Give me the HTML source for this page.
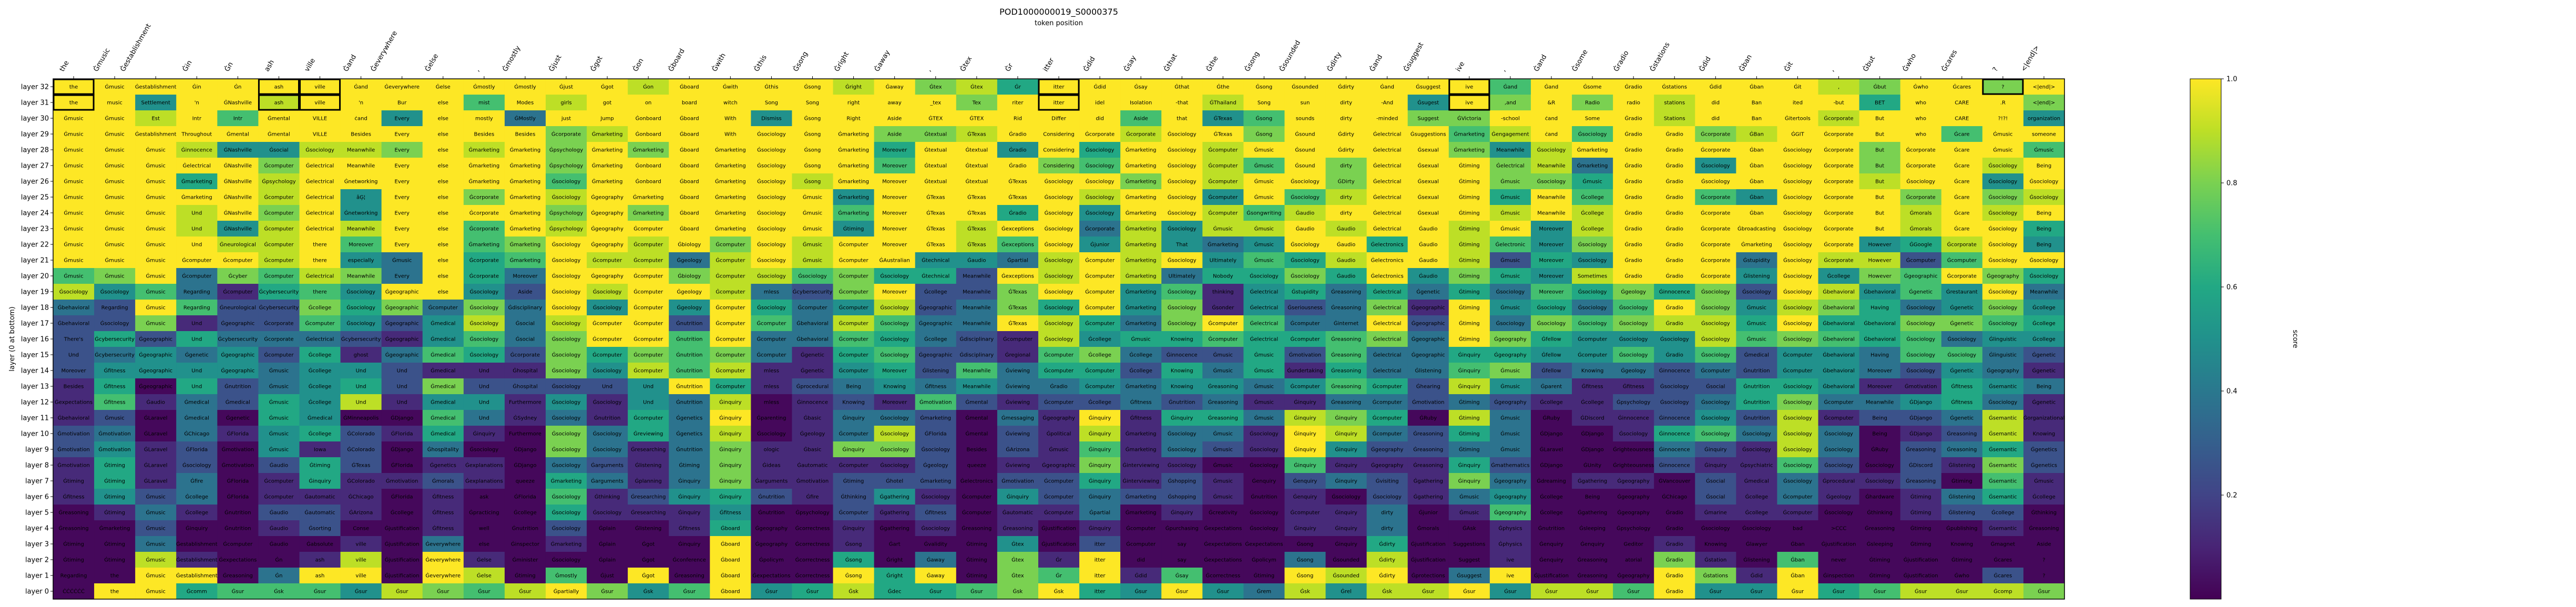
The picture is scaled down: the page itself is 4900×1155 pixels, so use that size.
<!DOCTYPE html>
<html><head><meta charset="utf-8"><style>
html,body{margin:0;padding:0;background:#fff;}
svg{display:block;font-family:"DejaVu Sans","Liberation Sans",sans-serif;}
</style></head><body>
<svg id="chart" width="4900" height="1155" viewBox="0 0 4900 1155" xmlns="http://www.w3.org/2000/svg">
<defs><linearGradient id="vir" x1="0" y1="1" x2="0" y2="0">
<stop offset="0" stop-color="#440154"/><stop offset="0.1" stop-color="#482475"/><stop offset="0.2" stop-color="#414487"/><stop offset="0.3" stop-color="#355f8d"/><stop offset="0.4" stop-color="#2a788e"/><stop offset="0.5" stop-color="#21918c"/><stop offset="0.6" stop-color="#22a884"/><stop offset="0.7" stop-color="#44bf70"/><stop offset="0.8" stop-color="#7ad151"/><stop offset="0.9" stop-color="#bddf26"/><stop offset="1" stop-color="#fde725"/>
</linearGradient></defs>
<text x="2014" y="28" text-anchor="middle" font-size="16">POD1000000019_S0000375</text>
<text x="2014" y="48" text-anchor="middle" font-size="13">token position</text>
<text transform="translate(27,645) rotate(-90)" text-anchor="middle" font-size="13">layer (0 at bottom)</text>
<g id="cells"></g>
<g id="xlabels"></g>
<g id="ylabels"></g>
<g id="boxes"></g>
<rect x="101" y="150" width="3826" height="990" fill="none" stroke="#000" stroke-width="1.5"/>
<g>
<rect x="4166" y="150" width="59" height="990" fill="url(#vir)" stroke="#000" stroke-width="1"/>
<g id="cbticks"></g>
<text transform="translate(4362,645) rotate(90)" text-anchor="middle" font-size="13">score</text>
</g>
</svg>
<script>
const xTokens=["the","Ġmusic","Ġestablishment","Ġin","Ġn","ash","ville","Ġand","Ġeverywhere","Ġelse",",","Ġmostly","Ġjust","Ġgot","Ġon","Ġboard","Ġwith","Ġthis","Ġsong","Ġright","Ġaway",",","Ġtex","Ġr","itter","Ġdid","Ġsay","Ġthat","Ġthe","Ġsong","Ġsounded","Ġdirty","Ġand","Ġsuggest","ive",",","Ġand","Ġsome","Ġradio","Ġstations","Ġdid","Ġban","Ġit",",","Ġbut","Ġwho","Ġcares","?","<|end|>"];
const layerNames=[32,31,30,29,28,27,26,25,24,23,22,21,20,19,18,17,16,15,14,13,12,11,10,9,8,7,6,5,4,3,2,1,0];
const levelToScore=[0.02,0.12,0.25,0.38,0.5,0.6,0.7,0.8,0.9,1.0];
const cbTickValues=[0.2,0.4,0.6,0.8,1.0];
const cbTickLabels=["0.2","0.4","0.6","0.8","1.0"];
const highlightCells=[[32,0],[31,0],[32,5],[31,5],[32,6],[31,6],[32,24],[31,24],[32,34],[31,34],[32,47]];
const levels=[
[9,9,9,9,9,9,9,9,9,9,9,9,9,9,8,9,9,9,9,8,9,7,8,5,9,9,9,9,9,9,9,9,9,9,9,6,9,9,9,9,9,9,9,8,7,9,9,7,9],
[9,9,4,9,9,8,9,9,9,9,6,9,8,9,9,9,9,9,9,9,9,9,7,9,9,9,9,9,8,9,9,9,9,4,9,7,9,7,9,8,9,9,9,9,5,9,9,9,7],
[9,9,8,9,6,9,9,9,4,9,9,3,9,9,9,9,9,4,9,9,9,9,9,9,9,9,6,9,4,6,9,9,9,7,7,9,9,9,9,8,9,9,9,8,9,9,9,9,4],
[9,9,9,9,9,9,9,9,9,9,9,9,7,8,9,9,9,9,9,9,7,7,8,9,9,9,8,9,9,7,9,9,9,9,6,8,9,6,9,9,7,8,9,9,9,9,6,9,9],
[9,9,9,8,4,4,8,8,7,9,8,9,7,9,7,9,9,9,9,9,5,9,9,4,9,5,9,9,8,9,9,9,9,9,7,4,8,9,9,9,9,9,9,9,7,9,9,9,6],
[9,9,9,9,9,7,9,9,9,9,9,9,7,9,9,9,9,9,9,9,6,9,9,9,7,6,9,9,8,6,9,7,9,9,9,7,8,3,9,9,4,9,9,9,7,9,9,8,9],
[9,9,9,5,9,8,9,9,9,9,9,9,6,9,9,9,9,9,8,9,9,9,9,9,9,9,7,9,8,9,9,7,9,9,9,7,7,5,9,9,9,9,9,9,8,9,9,4,9],
[9,9,9,9,9,8,9,4,9,9,7,9,8,9,9,9,9,9,9,4,9,9,9,9,9,8,9,9,4,9,6,8,9,9,9,5,9,6,9,9,6,4,9,9,9,7,9,7,8],
[9,9,9,8,9,7,9,4,9,9,9,9,7,9,7,9,9,9,9,6,9,9,9,5,9,4,9,9,8,6,8,9,9,9,9,8,9,8,9,9,9,9,9,9,9,8,9,8,9],
[9,9,9,8,4,8,9,8,9,9,6,9,8,9,9,9,9,9,9,4,9,9,8,9,9,3,8,4,8,8,9,8,9,9,8,9,4,8,9,9,9,9,9,9,9,8,9,9,5],
[9,9,9,9,8,8,9,6,9,9,6,7,9,9,8,9,7,9,8,9,9,9,8,6,9,4,8,4,3,4,9,9,5,9,8,6,4,7,9,9,9,9,9,9,4,5,8,9,4],
[9,9,9,9,9,8,9,4,3,9,5,6,9,8,8,3,8,9,8,9,9,4,4,3,8,9,8,9,4,6,5,8,9,9,8,2,5,4,9,9,9,3,9,8,8,2,6,9,9],
[6,7,9,3,7,6,8,7,3,9,5,3,9,9,9,7,8,8,6,7,5,5,2,9,8,9,8,3,5,5,7,5,9,4,7,5,4,8,9,9,9,4,9,4,7,6,9,7,5],
[8,4,6,3,1,5,6,4,9,9,4,2,9,8,9,9,8,3,2,7,9,2,2,7,9,9,4,6,1,4,5,3,5,3,5,3,6,5,7,5,7,2,9,8,4,6,4,9,3],
[3,2,9,6,2,2,7,5,7,3,7,3,9,4,9,4,9,5,3,4,8,2,3,7,5,9,4,7,1,4,2,3,7,1,9,4,5,3,6,9,7,4,8,7,5,3,4,7,4],
[2,2,7,1,2,2,6,4,2,4,8,3,8,9,9,2,9,6,3,8,6,3,3,9,8,5,3,7,9,6,3,3,9,2,9,3,7,6,7,8,8,5,9,5,5,7,7,6,5],
[2,5,2,5,3,3,3,2,1,4,6,3,7,9,9,6,9,3,3,6,5,3,2,1,8,4,5,5,6,5,5,6,7,3,9,7,5,4,4,4,8,6,7,6,5,6,3,4,4],
[2,3,4,3,4,2,5,1,3,6,5,2,7,5,7,6,7,3,1,5,6,2,2,1,6,7,3,2,2,5,2,6,3,3,5,5,4,4,6,4,6,2,4,4,3,6,6,3,2],
[2,4,4,4,4,3,4,4,2,1,1,1,7,4,8,6,8,1,1,4,5,2,6,3,5,5,2,5,3,5,1,5,3,3,6,7,2,3,3,2,3,2,4,4,3,2,4,3,1],
[1,5,0,5,2,3,4,5,2,7,2,2,2,2,4,9,5,1,2,3,4,3,4,3,3,4,3,4,4,3,4,6,5,2,8,4,3,1,1,2,2,5,5,4,1,1,5,4,3],
[1,6,1,3,2,5,4,8,1,4,4,1,4,1,4,3,8,0,1,2,1,6,2,1,2,2,3,2,3,1,1,3,3,2,3,2,1,1,2,2,3,5,7,3,3,4,5,3,1],
[1,2,0,3,0,5,4,0,0,6,3,1,3,1,5,3,9,0,1,3,3,2,0,3,1,9,1,5,5,3,8,7,5,0,8,3,0,1,1,2,4,2,8,1,2,2,3,8,1],
[2,3,0,3,1,4,5,2,1,5,1,0,7,3,5,3,8,0,1,3,8,2,0,2,1,8,1,3,3,1,9,8,3,2,5,3,0,0,1,5,6,3,8,3,0,1,2,8,1],
[2,4,1,2,0,4,1,2,0,3,0,0,7,3,1,3,7,1,1,7,7,2,0,2,1,6,1,3,2,1,9,4,2,2,3,3,0,0,0,3,2,1,8,3,0,2,3,5,2],
[1,5,1,2,0,2,5,2,0,1,1,0,3,2,1,3,7,1,1,1,1,2,0,1,1,7,1,1,0,0,6,1,1,1,5,2,0,0,0,2,1,1,6,2,0,2,1,7,2],
[1,5,1,3,0,1,5,1,1,2,1,0,5,3,1,3,7,1,1,2,2,2,0,2,2,5,1,2,1,0,2,3,2,1,7,3,0,1,1,0,2,1,3,1,1,2,0,6,1],
[1,4,2,3,0,1,1,1,0,1,0,0,6,1,2,4,5,2,1,2,4,1,0,4,2,3,2,2,1,0,1,0,2,1,3,4,0,0,0,0,2,1,3,1,0,1,3,5,1],
[0,1,3,1,0,2,2,1,0,1,0,0,5,1,1,1,4,0,0,2,1,2,0,1,1,3,0,1,0,0,1,1,3,0,1,6,0,0,0,0,1,1,1,0,0,1,2,2,0],
[0,0,2,0,0,1,2,0,0,1,0,0,2,0,0,1,5,0,0,1,0,1,0,1,0,1,0,0,0,0,1,1,3,0,0,1,0,0,0,0,0,0,0,0,0,0,0,1,0],
[0,0,3,0,0,0,0,1,0,3,0,0,1,0,0,0,9,0,0,1,0,0,0,4,0,2,0,0,0,0,0,0,5,0,0,1,0,0,0,1,0,0,0,0,0,0,0,0,0],
[0,0,8,1,0,0,1,8,0,9,1,0,0,0,0,0,9,0,0,5,0,3,0,7,1,9,0,0,0,0,3,0,8,0,0,1,0,0,0,7,1,0,6,0,0,0,0,0,0],
[0,0,9,9,0,3,9,9,0,9,8,0,6,0,9,0,9,0,0,9,5,9,0,7,6,9,1,6,0,0,9,8,9,0,3,9,0,0,0,9,7,1,9,0,0,0,0,2,0],
[0,9,9,5,6,6,6,4,8,7,6,8,9,7,4,6,9,4,5,8,5,5,6,7,9,5,4,9,4,3,8,4,8,8,9,4,8,8,6,9,4,4,9,5,6,8,8,8,7]
];
const cellText=[
"the;Ġmusic;Ġestablishment;Ġin;Ġn;ash;ville;Ġand;Ġeverywhere;Ġelse;Ġmostly;Ġmostly;Ġjust;Ġgot;Ġon;Ġboard;Ġwith;Ġthis;Ġsong;Ġright;Ġaway;Ġtex;Ġtex;Ġr;itter;Ġdid;Ġsay;Ġthat;Ġthe;Ġsong;Ġsounded;Ġdirty;Ġand;Ġsuggest;ive;Ġand;Ġand;Ġsome;Ġradio;Ġstations;Ġdid;Ġban;Ġit;,;Ġbut;Ġwho;Ġcares;?;<|end|>",
"the;music;Settlement;'n;ĠNashville;ash;ville;'n;Bur;else;mist;Modes;girls;got;on;board;witch;Song;Song;right;away;_tex;Tex;riter;itter;idel;Isolation;-that;ĠThailand;Song;sun;dirty;-And;Ġsugest;ive;,and;&R;Radio;radio;stations;did;Ban;ited;-but;BET;who;CARE;.R;<|end|>",
"Ġmusic;Ġmusic;Est;Intr;Intr;Ġmental;VILLE;ċand;Every;else;mostly;ĠMostly;just;Jump;Ġonboard;Ġboard;With;Dismiss;Ġsong;Right;Aside;ĠTEX;ĠTEX;Rid;Differ;did;Aside;that;ĠTexas;Ġsong;sounds;dirty;-minded;Suggest;ĠVictoria;-school;ċand;Some;Ġradio;Stations;did;Ban;Ġitertools;Ġcorporate;But;who;CARE;?!?!;organization",
"Ġmusic;Ġmusic;Ġestablishment;Throughout;Ġmental;Ġmental;VILLE;Besides;Every;else;Besides;Besides;Ġcorporate;Ġmarketing;Ġonboard;Ġboard;With;Ġsociology;Ġsong;Ġmarketing;Aside;Ġtextual;ĠTexas;Ġradio;Considering;Ġcorporate;Ġcorporate;Ġsociology;ĠTexas;Ġsong;Ġsound;Ġdirty;Ġelectrical;Ġsuggestions;Ġmarketing;Ġengagement;ċand;Ġsociology;Ġradio;Ġradio;Ġcorporate;ĠBan;ĠGIT;Ġcorporate;But;who;Ġcare;Ġmusic;someone",
"Ġmusic;Ġmusic;Ġmusic;Ġinnocence;ĠNashville;Ġsocial;Ġsociology;Meanwhile;Every;else;Ġmarketing;Ġmarketing;Ġpsychology;Ġmarketing;Ġmarketing;Ġboard;Ġmarketing;Ġsociology;Ġsong;Ġmarketing;Moreover;Ġtextual;Ġtextual;Ġradio;Considering;Ġsociology;Ġmarketing;Ġsociology;Ġcomputer;Ġmusic;Ġsound;Ġdirty;Ġelectrical;Ġsexual;Ġmarketing;Meanwhile;Ġsociology;Ġmarketing;Ġradio;Ġradio;Ġcorporate;Ġban;Ġsociology;Ġcorporate;But;Ġcorporate;Ġcare;Ġmusic;Ġmusic",
"Ġmusic;Ġmusic;Ġmusic;Ġelectrical;ĠNashville;Ġcomputer;Ġelectrical;Meanwhile;Every;else;Ġmarketing;Ġmarketing;Ġpsychology;Ġmarketing;Ġonboard;Ġboard;Ġmarketing;Ġsociology;Ġsong;Ġmarketing;Moreover;Ġtextual;Ġtextual;Ġradio;Considering;Ġsociology;Ġmarketing;Ġsociology;Ġcomputer;Ġmusic;Ġsound;dirty;Ġelectrical;Ġsexual;Ġtiming;Ġelectrical;Meanwhile;Ġmarketing;Ġradio;Ġradio;Ġsociology;Ġban;Ġsociology;Ġcorporate;But;Ġcorporate;Ġcare;Ġsociology;Being",
"Ġmusic;Ġmusic;Ġmusic;Ġmarketing;ĠNashville;Ġpsychology;Ġelectrical;Ġnetworking;Every;else;Ġmarketing;Ġmarketing;Ġsociology;Ġmarketing;Ġonboard;Ġboard;Ġmarketing;Ġsociology;Ġsong;Ġmarketing;Moreover;Ġtextual;Ġtextual;ĠTexas;Ġsociology;Ġsociology;Ġmarketing;Ġsociology;Ġcomputer;Ġmusic;Ġsociology;ĠDirty;Ġelectrical;Ġsexual;Ġtiming;Ġmusic;Ġsociology;Ġmusic;Ġradio;Ġradio;Ġsociology;Ġban;Ġsociology;Ġcorporate;But;Ġsociology;Ġcare;Ġsociology;Ġsociology",
"Ġmusic;Ġmusic;Ġmusic;Ġmarketing;ĠNashville;Ġcomputer;Ġelectrical;âĢ¦;Every;else;Ġcorporate;Ġmarketing;Ġsociology;Ġgeography;Ġmarketing;Ġboard;Ġmarketing;Ġsociology;Ġmusic;Ġmarketing;Moreover;ĠTexas;ĠTexas;ĠTexas;Ġsociology;Ġsociology;Ġmarketing;Ġsociology;Ġcomputer;Ġmusic;Ġsociology;dirty;Ġelectrical;Ġsexual;Ġtiming;Ġmusic;Meanwhile;Ġcollege;Ġradio;Ġradio;Ġcorporate;Ġban;Ġsociology;Ġcorporate;But;Ġcorporate;Ġcare;Ġsociology;Ġsociology",
"Ġmusic;Ġmusic;Ġmusic;Und;ĠNashville;Ġcomputer;Ġelectrical;Ġnetworking;Every;else;Ġcorporate;Ġmarketing;Ġpsychology;Ġgeography;Ġmarketing;Ġboard;Ġmarketing;Ġsociology;Ġmusic;Ġmarketing;Moreover;ĠTexas;ĠTexas;Ġradio;Ġsociology;Ġsociology;Ġmarketing;Ġsociology;Ġcomputer;Ġsongwriting;Ġaudio;dirty;Ġelectrical;Ġsexual;Ġtiming;Ġmusic;Meanwhile;Ġcollege;Ġradio;Ġradio;Ġcorporate;Ġban;Ġsociology;Ġcorporate;But;Ġmorals;Ġcare;Ġsociology;Being",
"Ġmusic;Ġmusic;Ġmusic;Und;ĠNashville;Ġcomputer;Ġelectrical;Meanwhile;Every;else;Ġcorporate;Ġmarketing;Ġpsychology;Ġgeography;Ġcomputer;Ġboard;Ġmarketing;Ġsociology;Ġmusic;Ġtiming;Moreover;ĠTexas;ĠTexas;Ġexceptions;Ġsociology;Ġcorporate;Ġmarketing;Ġsociology;Ġmusic;Ġmusic;Ġaudio;Ġaudio;Ġelectrical;Ġaudio;Ġtiming;Ġmusic;Moreover;Ġcollege;Ġradio;Ġradio;Ġcorporate;Ġbroadcasting;Ġsociology;Ġcorporate;But;Ġmorals;Ġcare;Ġsociology;Being",
"Ġmusic;Ġmusic;Ġmusic;Und;Ġneurological;Ġcomputer;there;Moreover;Every;else;Ġmarketing;Ġmarketing;Ġsociology;Ġgeography;Ġcomputer;Ġbiology;Ġcomputer;Ġsociology;Ġmusic;Ġcomputer;Moreover;ĠTexas;ĠTexas;Ġexceptions;Ġsociology;Ġjunior;Ġmarketing;That;Ġmarketing;Ġmusic;Ġsociology;Ġaudio;Ġelectronics;Ġaudio;Ġtiming;Ġelectronic;Moreover;Ġsociology;Ġradio;Ġradio;Ġcorporate;Ġmarketing;Ġsociology;Ġcorporate;However;ĠGoogle;Ġcorporate;Ġsociology;Being",
"Ġmusic;Ġmusic;Ġmusic;Ġcomputer;Ġcomputer;Ġcomputer;there;especially;Ġmusic;else;Ġcorporate;Ġmarketing;Ġsociology;Ġcomputer;Ġcomputer;Ġgeology;Ġcomputer;Ġsociology;Ġmusic;Ġcomputer;ĠAustralian;Ġtechnical;Ġaudio;Ġpartial;Ġsociology;Ġcomputer;Ġmarketing;Ġsociology;Ultimately;Ġmusic;Ġsociology;Ġaudio;Ġelectronics;Ġaudio;Ġtiming;Ġmusic;Moreover;Ġsociology;Ġradio;Ġradio;Ġcorporate;Ġstupidity;Ġsociology;Ġcorporate;However;Ġcomputer;Ġcomputer;Ġsociology;Ġsociology",
"Ġmusic;Ġmusic;Ġmusic;Ġcomputer;Ġcyber;Ġcomputer;Ġelectrical;Meanwhile;Every;else;Ġcorporate;Moreover;Ġsociology;Ġgeography;Ġcomputer;Ġbiology;Ġcomputer;Ġsociology;Ġsociology;Ġcomputer;Ġsociology;Ġtechnical;Meanwhile;Ġexceptions;Ġsociology;Ġcomputer;Ġmarketing;Ultimately;Nobody;Ġsociology;Ġsociology;Ġaudio;Ġelectronics;Ġaudio;Ġtiming;Ġmusic;Moreover;Sometimes;Ġradio;Ġradio;Ġcorporate;Ġlistening;Ġsociology;Ġcollege;However;Ġgeographic;Ġcorporate;Ġgeography;Ġsociology",
"Ġsociology;Ġsociology;Ġmusic;Regarding;Ġcomputer;Ġcybersecurity;there;Ġsociology;Ġgeographic;else;Ġsociology;Aside;Ġsociology;Ġsociology;Ġcomputer;Ġgeology;Ġcomputer;mless;Ġcybersecurity;Ġcomputer;Moreover;Ġcollege;Meanwhile;ĠTexas;Ġsociology;Ġcomputer;Ġmarketing;Ġsociology;thinking;Ġelectrical;Ġstupidity;Ġreasoning;Ġelectrical;Ġgenetic;Ġtiming;Ġsociology;Moreover;Ġsociology;Ġgeology;Ġinnocence;Ġsociology;Ġsociology;Ġsociology;Ġbehavioral;Ġbehavioral;Ġgenetic;Ġrestaurant;Ġsociology;Meanwhile",
"Ġbehavioral;Regarding;Ġmusic;Regarding;Ġneurological;Ġcybersecurity;Ġcollege;Ġsociology;Ġgeographic;Ġcomputer;Ġsociology;Ġdisciplinary;Ġsociology;Ġsociology;Ġcomputer;Ġgeology;Ġcomputer;Ġsociology;Ġcomputer;Ġcomputer;Ġsociology;Ġgeographic;Meanwhile;ĠTexas;Ġsociology;Ġcomputer;Ġmarketing;Ġsociology;Ġsonder;Ġelectrical;Ġseriousness;Ġreasoning;Ġelectrical;Ġgeographic;Ġtiming;Ġmusic;Ġsociology;Ġsociology;Ġsociology;Ġradio;Ġsociology;Ġmusic;Ġsociology;Ġbehavioral;Having;Ġsociology;Ġgenetic;Ġsociology;Ġcollege",
"Ġbehavioral;Ġsociology;Ġmusic;Und;Ġgeographic;Ġcorporate;Ġcomputer;Ġsociology;Ġgeographic;Ġmedical;Ġsociology;Ġsocial;Ġsociology;Ġcomputer;Ġcomputer;Ġnutrition;Ġcomputer;Ġcomputer;Ġbehavioral;Ġcomputer;Ġsociology;Ġgeographic;Meanwhile;ĠTexas;Ġsociology;Ġcomputer;Ġmarketing;Ġsociology;Ġcomputer;Ġelectrical;Ġcomputer;Ġinternet;Ġelectrical;Ġgeographic;Ġtiming;Ġsociology;Ġsociology;Ġsociology;Ġsociology;Ġradio;Ġsociology;Ġmusic;Ġsociology;Ġbehavioral;Ġbehavioral;Ġsociology;Ġgenetic;Ġsociology;Ġcollege",
"There's;Ġcybersecurity;Ġgeographic;Und;Ġcybersecurity;Ġcorporate;Ġelectrical;Ġcybersecurity;Ġgeographic;Ġmedical;Ġsociology;Ġsocial;Ġsociology;Ġcomputer;Ġcomputer;Ġnutrition;Ġcomputer;Ġcomputer;Ġbehavioral;Ġcomputer;Ġsociology;Ġcollege;Ġdisciplinary;Ġcomputer;Ġsociology;Ġcollege;Ġmusic;Knowing;Ġcomputer;Ġelectrical;Ġcomputer;Ġreasoning;Ġelectrical;Ġgeographic;Ġtiming;Ġgeography;Ġfellow;Ġcomputer;Ġsociology;Ġsociology;Ġsociology;Ġmusic;Ġsociology;Ġbehavioral;Ġbehavioral;Ġsociology;Ġsociology;Ġlinguistic;Ġcollege",
"Und;Ġcybersecurity;Ġgeographic;Ġgenetic;Ġgeographic;Ġcomputer;Ġcollege;ghost;Ġgeographic;Ġmedical;Ġsociology;Ġcorporate;Ġsociology;Ġcomputer;Ġcomputer;Ġnutrition;Ġcomputer;Ġcomputer;Ġgenetic;Ġcomputer;Ġsociology;Ġgeographic;Ġdisciplinary;Ġregional;Ġcomputer;Ġcollege;Ġcollege;Ġinnocence;Ġmusic;Ġmusic;Ġmotivation;Ġreasoning;Ġelectrical;Ġgeographic;Ġinquiry;Ġgeography;Ġfellow;Ġcomputer;Ġsociology;Ġradio;Ġsociology;Ġmedical;Ġcomputer;Ġbehavioral;Having;Ġsociology;Ġsociology;Ġlinguistic;Ġgenetic",
"Moreover;Ġfitness;Ġgeographic;Und;Ġgeographic;Ġmusic;Ġcollege;Und;Und;Ġmedical;Und;Ġhospital;Ġsociology;Ġsociology;Ġcomputer;Ġnutrition;Ġcomputer;mless;Ġgenetic;Ġcomputer;Moreover;Ġlistening;Meanwhile;Ġviewing;Ġcomputer;Ġcomputer;Ġcollege;Knowing;Ġmusic;Ġmusic;Ġundertaking;Ġreasoning;Ġelectrical;Ġlistening;Ġinquiry;Ġmusic;Ġfellow;Knowing;Ġgeology;Ġinnocence;Ġcomputer;Ġnutrition;Ġcomputer;Ġbehavioral;Moreover;Ġsociology;Ġgenetic;Ġgeography;Ġgenetic",
"Besides;Ġfitness;Ġgeographic;Und;Ġnutrition;Ġmusic;Ġcollege;Und;Und;Ġmedical;Und;Ġhospital;Ġsociology;Und;Und;Ġnutrition;Ġcomputer;mless;Ġprocedural;Being;Knowing;Ġfitness;Meanwhile;Ġviewing;Ġradio;Ġcomputer;Ġmarketing;Knowing;Ġreasoning;Ġmusic;Ġcomputer;Ġreasoning;Ġcomputer;Ġhearing;Ġinquiry;Ġmusic;Ġparent;Ġfitness;Ġfitness;Ġsociology;Ġsocial;Ġnutrition;Ġsociology;Ġbehavioral;Moreover;Ġmotivation;Ġfitness;Ġsemantic;Being",
"Ġexpectations;Ġfitness;Ġaudio;Ġmedical;Ġmedical;Ġmusic;Ġcollege;Und;Und;Ġmedical;Und;Furthermore;Ġsociology;Ġsociology;Und;Ġnutrition;Ġinquiry;mless;Ġinnocence;Knowing;Moreover;Ġmotivation;Ġmental;Ġviewing;Ġcomputer;Ġcollege;Ġfitness;Ġnutrition;Ġreasoning;Ġmusic;Ġinquiry;Ġreasoning;Ġcomputer;Ġmotivation;Ġtiming;Ġgeography;Ġcollege;Ġcollege;Ġpsychology;Ġsociology;Ġsociology;Ġnutrition;Ġsociology;Ġcomputer;Meanwhile;ĠDjango;Ġfitness;Ġsociology;Ġgenetic",
"Ġbehavioral;Ġmusic;ĠLaravel;Ġmedical;Ġgenetic;Ġmusic;Ġmedical;ĠMinneapolis;ĠDjango;Ġmedical;Und;ĠSydney;Ġsociology;Ġnutrition;Ġcomputer;Ġgenetics;Ġinquiry;Ġparenting;Ġbasic;Ġinquiry;Ġsociology;Ġmarketing;Ġmental;Ġmessaging;Ġgeography;Ġinquiry;Ġfitness;Ġinquiry;Ġreasoning;Ġmusic;Ġinquiry;Ġinquiry;Ġcomputer;ĠRuby;Ġtiming;Ġmusic;ĠRuby;ĠDiscord;Ġinnocence;Ġinnocence;Ġsociology;Ġnutrition;Ġsociology;Ġcomputer;Being;ĠDjango;Ġgenetic;Ġsemantic;Ġorganizational",
"Ġmotivation;Ġmotivation;ĠLaravel;ĠChicago;ĠFlorida;Ġmusic;Ġcollege;ĠColorado;ĠFlorida;Ġmedical;Ġinquiry;Furthermore;Ġsociology;Ġsociology;Ġreviewing;Ġgenetics;Ġinquiry;Ġsociology;Ġgeology;Ġcomputer;Ġsociology;ĠFlorida;Ġmental;Ġviewing;Ġpolitical;Ġinquiry;Ġmarketing;Ġsociology;Ġmusic;Ġsociology;Ġinquiry;Ġinquiry;Ġcomputer;Ġreasoning;Ġtiming;Ġmusic;ĠDjango;ĠDjango;Ġsociology;Ġinnocence;Ġsociology;Ġsociology;Ġsociology;Ġsociology;Being;ĠDjango;Ġreasoning;Ġsemantic;Knowing",
"Ġmotivation;Ġmotivation;ĠLaravel;ĠFlorida;Ġmotivation;Ġmusic;Iowa;ĠColorado;ĠDjango;Ġhospitality;Ġsociology;ĠDjango;Ġsociology;Ġsociology;Ġresearching;Ġnutrition;Ġinquiry;ologic;Ġbasic;Ġinquiry;Ġsociology;Ġsociology;Besides;ĠArizona;Ġmusic;Ġinquiry;Ġmarketing;Ġsociology;Ġmusic;Ġsociology;Ġinquiry;Ġinquiry;Ġgeography;Ġreasoning;Ġtiming;Ġmusic;ĠLaravel;ĠDjango;Ġrighteousness;Ġinnocence;Ġinquiry;Ġsociology;Ġsociology;Ġsociology;ĠRuby;Ġreasoning;Ġreasoning;Ġsemantic;Ġgenetics",
"Ġmotivation;Ġtiming;ĠLaravel;Ġsociology;Ġmotivation;Ġaudio;Ġtiming;ĠTexas;ĠFlorida;Ġgenetics;Ġexplanations;ĠDjango;Ġsociology;Ġarguments;Ġlistening;Ġtiming;Ġinquiry;Ġideas;Ġautomatic;Ġcomputer;Ġsociology;Ġgeology;queeze;Ġviewing;Ġgeographic;Ġinquiry;Ġinterviewing;Ġsociology;Ġmusic;Ġsociology;Ġinquiry;Ġinquiry;Ġgeography;Ġreasoning;Ġinquiry;Ġmathematics;ĠDjango;ĠUnity;Ġrighteousness;Ġinnocence;Ġinquiry;Ġpsychiatric;Ġsociology;Ġsociology;Ġsociology;ĠDiscord;Ġlistening;Ġsemantic;Ġgenetics",
"Ġtiming;Ġtiming;ĠLaravel;Ġfire;ĠFlorida;Ġcomputer;Ġinquiry;ĠColorado;Ġmotivation;Ġmorals;Ġexplanations;queeze;Ġmarketing;Ġarguments;Ġplanning;Ġinquiry;Ġinquiry;Ġarguments;Ġmotivation;Ġtiming;Ġhotel;Ġmarketing;Ġelectronics;Ġmotivation;Ġcomputer;Ġinquiry;Ġinterviewing;Ġshopping;Ġmusic;Ġenquiry;Ġenquiry;Ġinquiry;Ġvisiting;Ġgathering;Ġinquiry;Ġgeography;Ġdreaming;Ġgathering;Ġgeography;ĠVancouver;Ġsocial;Ġmedical;Ġsociology;Ġprocedural;Ġsociology;Ġreasoning;Ġtiming;Ġsemantic;Ġmusic",
"Ġfitness;Ġtiming;Ġmusic;Ġcollege;ĠFlorida;Ġcomputer;Ġautomatic;ĠChicago;ĠFlorida;Ġfitness;ask;ĠFlorida;Ġsociology;Ġthinking;Ġresearching;Ġinquiry;Ġinquiry;Ġnutrition;Ġfire;Ġthinking;Ġgathering;Ġsociology;Ġcomputer;Ġinquiry;Ġcomputer;Ġinquiry;Ġmarketing;Ġshopping;Ġmusic;Ġnutrition;Ġenquiry;Ġsociology;Ġsociology;Ġgathering;Ġmusic;Ġgeography;Ġcollege;Being;Ġgeography;ĠChicago;Ġsocial;Ġcollege;Ġcomputer;Ġgeology;Ġhardware;Ġtiming;Ġlistening;Ġsemantic;Ġcollege",
"Ġreasoning;Ġtiming;Ġmusic;Ġcollege;Ġnutrition;Ġaudio;Ġautomatic;ĠArizona;Ġcollege;Ġfitness;Ġpracticing;Ġcollege;Ġsociology;Ġsociology;Ġresearching;Ġinquiry;Ġfitness;Ġnutrition;Ġpsychology;Ġcomputer;Ġgathering;Ġfitness;Ġcomputer;Ġautomatic;Ġcomputer;Ġpartial;Ġmarketing;Ġinquiry;Ġcreativity;Ġsociology;Ġcomputer;Ġinquiry;dirty;Ġjunior;Ġmusic;Ġgeography;Ġcollege;Ġgathering;Ġgeography;Ġradio;Ġmarine;Ġcollege;Ġcomputer;Ġsociology;Ġthinking;Ġtiming;Ġlistening;Ġcollege;Ġthinking",
"Ġreasoning;Ġmarketing;Ġmusic;Ġinquiry;Ġnutrition;Ġaudio;Ġsorting;Conse;Ġjustification;Ġfitness;well;Ġnutrition;Ġsociology;Ġplain;Ġlistening;Ġfitness;Ġboard;Ġgeography;Ġcorrectness;Ġinquiry;Ġgathering;Ġsociology;Ġreasoning;Ġreasoning;Ġjustification;Ġinquiry;Ġcomputer;Ġpurchasing;Ġexpectations;Ġsociology;Ġinquiry;Ġinquiry;dirty;Ġmorals;ĠAsk;Ġphysics;Ġnutrition;Ġsleeping;Ġpsychology;Ġradio;Ġsociology;Ġsociology;bad;>CCC;Ġreasoning;Ġtiming;Ġpublishing;Ġsemantic;Ġreasoning",
"Ġtiming;Ġtiming;Ġmusic;Ġestablishment;Ġcomputer;Ġaudio;Ġabsolute;ville;Ġjustification;Ġeverywhere;else;Ġinspector;Ġmarketing;Ġplain;Ġgot;Ġinquiry;Ġboard;Ġgeography;Ġcorrectness;Ġsong;Ġart;Ġvalidity;Ġtiming;Ġtex;Ġjustification;itter;Ġcomputer;say;Ġexpectations;Ġexpectations;Ġsong;Ġinquiry;Ġdirty;Ġjustification;Suggestions;Ġphysics;Ġenquiry;Ġenquiry;Geditor;Ġradio;Knowing;Ġlawyer;Ġban;Ġjustification;Ġsleeping;Ġtiming;Knowing;Ġmagnet;Aside",
"Ġtiming;Ġtiming;Ġmusic;Ġestablishment;Ġexpectations;Ġn;ash;ville;Ġjustification;Ġeverywhere;Ġelse;Ġminister;Ġsociology;Ġplain;Ġgot;Ġconference;Ġboard;Ġpolicym;Ġcorrectness;Ġsong;Ġright;Ġaway;Ġtiming;Ġtex;Ġr;itter;did;say;Ġexpectations;Ġpolicym;Ġsong;Ġsounded;Ġdirty;Ġjustification;Suggest;ive;Ġenquiry;Ġreasoning;atorial;Ġradio;Ġstation;Ġlistening;Ġban;never;Ġtiming;Ġjustification;Ġtiming;Ġcares;?",
"Regarding;the;Ġmusic;Ġestablishment;Ġreasoning;Ġn;ash;ville;Ġjustification;Ġeverywhere;Ġelse;Ġtiming;Ġmostly;Ġjust;Ġgot;Ġreasoning;Ġboard;Ġexpectations;Ġcorrectness;Ġsong;Ġright;Ġaway;Ġtiming;Ġtex;Ġr;itter;Ġdid;Ġsay;Ġcorrectness;Ġtiming;Ġsong;Ġsounded;Ġdirty;Ġprotections;Ġsuggest;ive;Ġjustification;Ġreasoning;Ġgeography;Ġradio;Ġstations;Ġdid;Ġban;Ġinspection;Ġtiming;Ġjustification;Ġwho;Ġcares;?",
"ĊĊĊĊĊĊ;the;Ġmusic;Ġcomm;Ġsur;Ġsk;Ġsur;Ġsur;Ġsur;Ġsur;Ġsur;Ġsur;Ġpartially;Ġsur;Ġsk;Ġsur;Ġboard;Ġsur;Ġsur;Ġsk;Ġdec;Ġsur;Ġsur;Ġsk;Ġsk;itter;Ġsur;Ġsur;Ġsur;Ġrem;Ġsk;Ġrel;Ġsk;Ġsur;Ġsur;Ġsur;Ġsur;Ġsur;Ġsur;Ġradio;Ġsur;Ġsur;Ġsur;Ġsur;Ġsur;Ġsur;Ġsur;Ġcomp;Ġsur"
];

const NS="http://www.w3.org/2000/svg";
const X0=101,X1=3927,Y0=150,RH=30;
const NC=xTokens.length, CW=(X1-X0)/NC;
const VIR=["#440154","#482475","#414487","#355f8d","#2a788e","#21918c","#22a884","#44bf70","#7ad151","#bddf26","#fde725"];
function hex(h){return [parseInt(h.slice(1,3),16),parseInt(h.slice(3,5),16),parseInt(h.slice(5,7),16)];}
function viridis(v){v=Math.max(0,Math.min(1,v));const p=v*10,i=Math.min(9,Math.floor(p)),t=p-i;const a=hex(VIR[i]),b=hex(VIR[i+1]);return "rgb("+a.map((c,k)=>Math.round(c+(b[k]-c)*t)).join(",")+")";}
function xPos(c){return X0+c*CW;}
function yPos(r){return Y0+r*RH;}
function yScore(v){return Y0+(1-v)*990;}
function el(tag,attrs,parent){const e=document.createElementNS(NS,tag);for(const k in attrs)e.setAttribute(k,attrs[k]);parent.appendChild(e);return e;}

const cells=document.getElementById('cells');
levels.forEach((row,r)=>{
  const texts=cellText[r].split(';');
  row.forEach((lv,c)=>{
    const rect=el('rect',{x:xPos(c).toFixed(2),y:yPos(r),width:(CW+0.6).toFixed(2),height:RH+0.6,fill:viridis(levelToScore[lv])},cells);
    
    
    const t=el('text',{x:(xPos(c)+CW/2).toFixed(2),y:yPos(r)+RH/2+3.5,'text-anchor':'middle','font-size':'10',fill:'#000'},cells);
    t.textContent=texts[c]||'';
    
    
  });
});

const yl=document.getElementById('ylabels');
layerNames.forEach((n,r)=>{
  const cy=yPos(r)+RH/2;
  const tk=el('line',{x1:X0-5,x2:X0,y1:cy,y2:cy,stroke:'#000','stroke-width':1},yl);
  
  
  const t=el('text',{x:X0-8,y:cy+4.5,'text-anchor':'end','font-size':'13'},yl);
  t.textContent='layer '+n;
  
  
});

const xl=document.getElementById('xlabels');
xTokens.forEach((tok,c)=>{
  const cx=xPos(c)+CW/2;
  const tk=el('line',{x1:cx,x2:cx,y1:Y0-5,y2:Y0,stroke:'#000','stroke-width':1},xl);
  
  
  const t=el('text',{'font-size':'13'},xl);
  t.textContent=tok;
  
  
  const L=t.getComputedTextLength();
  const sx=cx-L/2-9, sy=137;
  t.setAttribute('transform','translate('+sx.toFixed(1)+','+sy+') rotate(-60)');
});

const bx=document.getElementById('boxes');
highlightCells.forEach(([layer,c])=>{
  const r=layerNames.indexOf(layer);
  const b=el('rect',{x:(xPos(c)+1).toFixed(2),y:yPos(r)+1,width:(CW-2).toFixed(2),height:RH-2,fill:'none',stroke:'#000','stroke-width':3},bx);
  
  
});

const cb=document.getElementById('cbticks');
cbTickValues.forEach((v,i)=>{
  const y=yScore(v);
  const tk=el('line',{x1:4225,x2:4230,y1:y,y2:y,stroke:'#000','stroke-width':1},cb);
  
  
  const t=el('text',{x:4235,y:y+4.5,'font-size':'13'},cb);
  t.textContent=cbTickLabels[i];
  
  
});
</script>
</body></html>
